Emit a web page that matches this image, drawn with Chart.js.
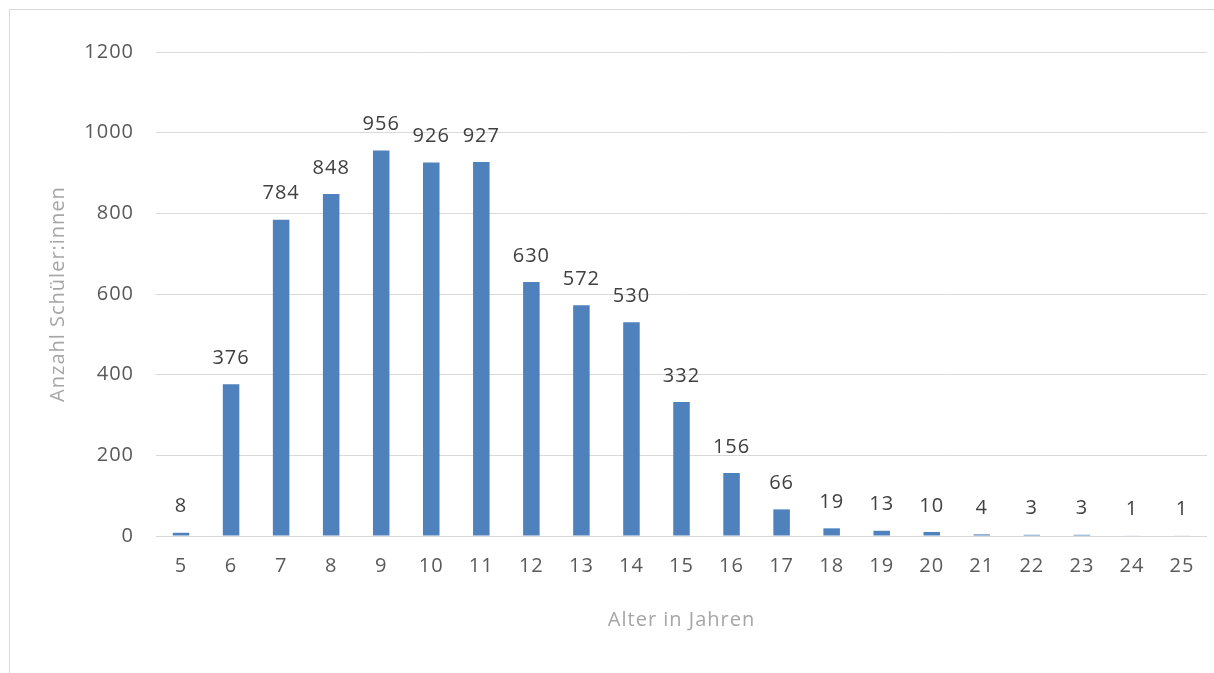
<!DOCTYPE html>
<html>
<head>
<meta charset="utf-8">
<script src="https://cdn.jsdelivr.net/npm/chart.js@4"></script>
<style>
  html, body { margin: 0; padding: 0; background: #fff; }
  #Frame {
    position: absolute; left: 9px; top: 9px; width: 1220px; height: 700px;
    border: 1px solid #d9d9d9; box-sizing: border-box;
  }
  #Box { position: absolute; left: 0; top: 0; width: 1214px; height: 673px; }
</style>
</head>
<body>
<div id="Frame"></div>
<div id="Box"><canvas id="myChart" width="1214" height="673"></canvas></div>
<script>
// * Data
const ages = ["5","6","7","8","9","10","11","12","13","14","15","16","17","18","19","20","21","22","23","24","25"];
const pupils = [8, 376, 784, 848, 956, 926, 927, 630, 572, 530, 332, 156, 66, 19, 13, 10, 4, 3, 3, 1, 1];
const yTicks = [0, 200, 400, 600, 800, 1000, 1200];

const fontName = "'Open Sans', 'Noto Sans', sans-serif";

// * Wider letter spacing like the original font
const spacing = {
  id: "spacing",
  beforeDraw(chart) {
    chart.ctx.letterSpacing = "1px";
  },
};

// * Small plugin that writes the value above each bar
const valueLabels = {
  id: "valueLabels",
  afterDatasetsDraw(chart) {
    const ctx = chart.ctx;
    const meta = chart.getDatasetMeta(0);
    ctx.save();
    ctx.font = "20px " + fontName;
    ctx.fillStyle = "#404040";
    ctx.textAlign = "center";
    ctx.textBaseline = "middle";
    meta.data.forEach((bar, i) => {
      ctx.fillText(String(pupils[i]), bar.x, bar.y - 26);
    });
    ctx.restore();
  },
};

const Canvas = document.getElementById("myChart").getContext("2d");

new Chart(Canvas, {
  type: "bar",
  data: {
    labels: ages,
    datasets: [
      {
        data: pupils,
        backgroundColor: "#4f81bd",
        barPercentage: 0.33,
        categoryPercentage: 1,
      },
    ],
  },
  options: {
    responsive: false,
    animation: false,
    layout: { padding: { left: 42, right: 7, top: 52, bottom: 37 } },
    plugins: { legend: { display: false }, tooltip: { enabled: false } },
    scales: {
      x: {
        grid: { display: false, drawTicks: false },
        border: { display: false },
        ticks: { color: "#595959", font: { family: fontName, size: 20 }, padding: 18 },
        title: {
          display: true,
          text: "Alter in Jahren",
          color: "#a6a6a6",
          font: { family: fontName, size: 20 },
        },
        afterFit(scale) { scale.height = 100; },
      },
      y: {
        min: 0,
        max: 1200,
        afterBuildTicks(scale) { scale.ticks = yTicks.map((v) => ({ value: v })); },
        grid: { color: "#d9d9d9", lineWidth: 1, drawTicks: false },
        border: { display: false },
        ticks: {
          color: "#595959",
          font: { family: fontName, size: 20 },
          padding: 22,
          callback: function (value) {
            return String(value);
          },
        },
        title: {
          display: true,
          text: "Anzahl Schüler:innen",
          color: "#a6a6a6",
          font: { family: fontName, size: 20 },
        },
        afterFit(scale) { scale.width = 114; },
      },
    },
  },
  plugins: [spacing, valueLabels],
});
</script>
</body>
</html>
